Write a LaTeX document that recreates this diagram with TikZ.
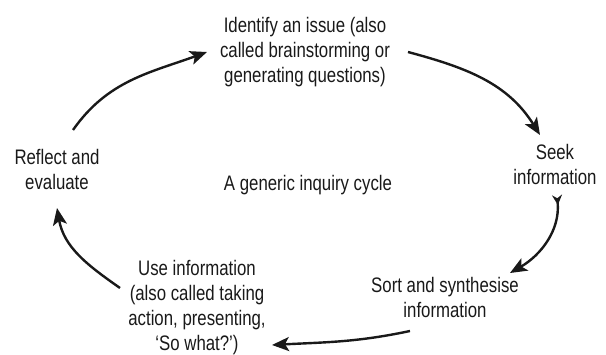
\documentclass[tikz,border=0pt]{standalone}
\usepackage{fontspec}
\usepackage{tikz}
\usetikzlibrary{arrows.meta, positioning}
\newfontfamily\cyclefont[FakeStretch=0.8]{Liberation Sans}
\newcommand{\stagefont}{\cyclefont\fontsize{21}{25}\selectfont}

\begin{document}
\begin{tikzpicture}[x=1pt, y=1pt,
        >={Stealth[length=17pt, width=14pt, inset=4pt]},
        stage/.style={align=center, inner sep=0pt, text=black!90, font=\stagefont},
        cyc/.style={->, line width=2.4pt, black!90}]
        \useasboundingbox (0, 0) rectangle (606, -355);

        \node[stage] (issue) at (305, -52) {Identify an issue (also\\called brainstorming or\\generating questions)};
        \node[stage] (seek) at (555, -164) {Seek\\information};
        \node[stage] (sort) at (445, -297) {Sort and synthesise\\information};
        \node[stage] (use) at (197, -308) {Use information\\(also called taking\\action, presenting,\\‘So what?’)};
        \node[stage] (reflect) at (57, -169) {Reflect and\\evaluate};
        \node[stage] (title) at (308, -185) {A generic inquiry cycle};

        \draw[cyc] ([shift={(16, 39)}]reflect.center) to[out=55, in=200] ([shift={(-98, 0)}]issue.center);
        \draw[cyc] ([shift={(103, 0)}]issue.center) to[out=-15, in=122] ([shift={(-15, 29)}]seek.center);
        \draw[cyc, {Stealth[length=10pt, width=10pt, reversed]}->] ([shift={(2, -31)}]seek.center) to[out=-85, in=30] ([shift={(65, 24)}]sort.center);
        \draw[cyc] ([shift={(-35, -34)}]sort.center) to[out=192, in=3] ([shift={(75, -37)}]use.center);
        \draw[cyc] ([shift={(-77, 20)}]use.center) to[out=145, in=-80] ([shift={(0, -39)}]reflect.center);
    \end{tikzpicture}
\end{document}
